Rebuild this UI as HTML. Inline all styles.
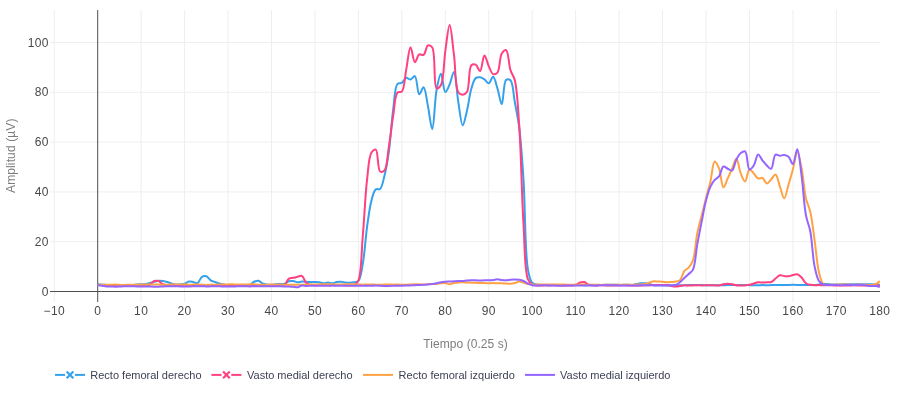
<!DOCTYPE html>
<html><head><meta charset="utf-8"><title>EMG</title>
<style>
html,body{margin:0;padding:0;background:#fff;}
body{width:900px;height:400px;overflow:hidden;font-family:"Liberation Sans",sans-serif;}
svg{display:block;will-change:transform;}
text{font-family:"Liberation Sans",sans-serif;}
.g{stroke:#eeeeee;stroke-width:1;}
.z{stroke:#4e4e4e;stroke-width:1;}
.tk{font-size:12px;fill:#484848;letter-spacing:0.35px;}
.tt{font-size:12px;fill:#7d7d7d;}
.lg{font-size:11px;fill:#3e4156;}
.tr{fill:none;stroke-width:2;stroke-linejoin:round;stroke-linecap:butt;}
</style></head><body>
<svg width="900" height="400" viewBox="0 0 900 400">
<rect x="0" y="0" width="900" height="400" fill="#ffffff"/>
<defs><clipPath id="cp"><rect x="50" y="10" width="829.9" height="292"/></clipPath></defs>

<line class="g" x1="54.25" x2="54.25" y1="10" y2="302"/>
<line class="g" x1="141.15" x2="141.15" y1="10" y2="302"/>
<line class="g" x1="184.60" x2="184.60" y1="10" y2="302"/>
<line class="g" x1="228.05" x2="228.05" y1="10" y2="302"/>
<line class="g" x1="271.50" x2="271.50" y1="10" y2="302"/>
<line class="g" x1="314.95" x2="314.95" y1="10" y2="302"/>
<line class="g" x1="358.40" x2="358.40" y1="10" y2="302"/>
<line class="g" x1="401.85" x2="401.85" y1="10" y2="302"/>
<line class="g" x1="445.30" x2="445.30" y1="10" y2="302"/>
<line class="g" x1="488.75" x2="488.75" y1="10" y2="302"/>
<line class="g" x1="532.20" x2="532.20" y1="10" y2="302"/>
<line class="g" x1="575.65" x2="575.65" y1="10" y2="302"/>
<line class="g" x1="619.10" x2="619.10" y1="10" y2="302"/>
<line class="g" x1="662.55" x2="662.55" y1="10" y2="302"/>
<line class="g" x1="706.00" x2="706.00" y1="10" y2="302"/>
<line class="g" x1="749.45" x2="749.45" y1="10" y2="302"/>
<line class="g" x1="792.90" x2="792.90" y1="10" y2="302"/>
<line class="g" x1="836.35" x2="836.35" y1="10" y2="302"/>
<line class="g" x1="50" x2="880" y1="241.70" y2="241.70"/>
<line class="g" x1="50" x2="880" y1="191.90" y2="191.90"/>
<line class="g" x1="50" x2="880" y1="142.10" y2="142.10"/>
<line class="g" x1="50" x2="880" y1="92.30" y2="92.30"/>
<line class="g" x1="50" x2="880" y1="42.50" y2="42.50"/>
<line class="z" x1="97.70" x2="97.70" y1="10" y2="302"/>
<line class="z" x1="50" x2="880" y1="291.50" y2="291.50"/>
<g clip-path="url(#cp)">
<path class="tr" stroke="#35A1EC" d="M97.70,284.28Q100.59,284.68 102.05,284.78C103.49,284.88 104.94,284.85 106.39,284.89C107.84,284.93 109.29,285.02 110.73,285.04C112.18,285.07 113.63,285.04 115.08,285.04C116.53,285.04 117.98,285.06 119.42,285.05C120.87,285.04 122.32,285.01 123.77,284.98C125.22,284.95 126.67,284.86 128.12,284.88C129.56,284.90 131.01,285.16 132.46,285.10C133.91,285.04 135.35,284.67 136.81,284.53C138.25,284.39 139.70,284.36 141.15,284.28C142.60,284.20 144.06,284.23 145.50,284.03C146.95,283.82 148.40,283.41 149.84,283.03C151.29,282.66 152.73,282.16 154.19,281.79C155.63,281.42 157.07,280.92 158.53,280.79C159.97,280.67 161.44,280.84 162.88,281.04C164.33,281.25 165.78,281.63 167.22,282.04C168.68,282.45 170.11,283.12 171.56,283.53C173.00,283.94 174.45,284.41 175.91,284.53C177.35,284.65 178.81,284.40 180.25,284.28C181.71,284.15 183.19,284.21 184.60,283.78C186.09,283.33 187.45,281.81 188.94,281.54C190.36,281.28 191.85,281.79 193.29,282.04C194.75,282.29 196.33,283.54 197.63,283.03C199.33,282.38 200.27,277.83 201.98,276.81C203.28,276.04 204.97,275.87 206.32,276.31C207.90,276.82 209.13,279.32 210.67,280.30C212.04,281.16 213.56,281.50 215.01,282.04C216.46,282.57 217.90,283.12 219.36,283.53C220.80,283.94 222.25,284.25 223.70,284.53C225.15,284.80 226.60,285.08 228.05,285.20C229.49,285.31 230.95,285.23 232.39,285.24C233.84,285.25 235.29,285.27 236.74,285.26C238.19,285.26 239.64,285.19 241.08,285.19C242.53,285.18 243.98,285.27 245.43,285.21C246.88,285.14 248.39,285.28 249.77,284.78C251.30,284.22 252.61,282.45 254.12,281.79C255.51,281.18 257.07,280.53 258.46,280.79C259.98,281.08 261.29,283.16 262.81,283.78C264.20,284.35 265.70,284.36 267.15,284.53C268.60,284.69 270.05,284.82 271.50,284.78C272.95,284.74 274.39,284.40 275.84,284.28C277.29,284.15 278.74,284.11 280.19,284.03C281.64,283.95 283.13,284.20 284.53,283.78C286.04,283.33 287.38,281.74 288.88,281.29C290.28,280.87 291.79,280.88 293.22,281.04C294.69,281.20 296.11,282.21 297.57,282.29C299.01,282.37 300.46,281.62 301.91,281.54C303.36,281.46 304.81,281.71 306.26,281.79C307.71,281.87 309.16,282.00 310.61,282.04C312.05,282.08 313.50,282.00 314.95,282.04C316.40,282.08 317.86,282.08 319.30,282.29C320.75,282.49 322.19,283.24 323.64,283.28C325.08,283.32 326.54,282.54 327.99,282.54C329.43,282.54 330.89,283.36 332.33,283.28C333.79,283.20 335.21,282.29 336.68,282.04C338.11,281.79 339.58,281.71 341.02,281.79C342.47,281.87 343.91,282.37 345.37,282.54C346.81,282.70 348.26,282.83 349.71,282.79C351.16,282.74 352.62,282.57 354.05,282.29C355.52,282.00 357.19,282.28 358.40,281.04C360.78,278.60 361.48,270.91 362.74,264.11C364.60,254.14 365.49,238.09 367.09,226.76C368.43,217.25 369.57,207.44 371.43,200.62C372.69,196.02 373.74,190.99 375.78,189.41C377.01,188.46 378.91,189.91 380.12,188.91C382.30,187.14 383.17,180.80 384.47,175.71C386.18,169.02 387.52,161.11 388.81,152.06C390.54,140.02 391.49,122.09 393.16,109.73C394.47,100.02 394.59,86.92 397.50,83.83C398.70,82.56 400.52,83.64 401.85,82.84C403.47,81.87 404.60,78.24 406.19,77.86C407.54,77.53 409.15,79.81 410.54,79.60C412.06,79.38 413.67,75.70 414.88,76.11C417.11,76.88 417.34,93.98 419.23,94.29C420.48,94.50 422.32,87.11 423.57,87.32C425.49,87.64 426.54,99.42 427.92,105.99C429.45,113.28 430.96,129.20 432.26,129.15C433.96,129.09 434.68,99.95 436.61,89.81C437.86,83.26 439.55,73.85 440.95,73.87C442.45,73.90 443.46,91.79 445.30,92.05C446.56,92.23 448.31,87.28 449.64,84.33C451.27,80.74 452.74,71.76 453.99,71.88C455.90,72.07 456.78,92.84 458.33,102.26C459.70,110.52 461.05,125.34 462.68,125.42C464.01,125.48 465.69,115.96 467.02,110.48C468.63,103.90 469.58,94.46 471.37,88.56C472.64,84.37 473.73,79.69 475.71,78.11C476.95,77.12 478.64,77.17 480.06,77.36C481.54,77.55 483.02,78.44 484.40,79.35C485.94,80.37 487.39,83.50 488.75,83.34C490.31,83.15 491.78,76.71 493.09,76.86C494.75,77.05 496.08,84.15 497.44,88.32C499.01,93.16 500.46,104.31 501.78,104.25C503.41,104.18 503.27,81.98 506.13,79.85C507.33,78.96 509.27,79.24 510.47,80.35C513.19,82.85 513.41,94.71 514.82,102.26C516.32,110.29 517.90,117.30 519.16,127.16C520.99,141.36 522.21,159.67 523.51,179.45C525.21,205.32 524.86,252.40 527.86,269.09C529.06,275.77 530.06,280.48 532.20,282.79C533.42,284.10 535.07,284.17 536.54,284.53C537.97,284.88 539.44,284.87 540.89,284.96C542.34,285.06 543.79,285.09 545.24,285.11C546.68,285.13 548.13,285.08 549.58,285.07C551.03,285.07 552.48,285.06 553.92,285.06C555.37,285.07 556.82,285.09 558.27,285.10C559.72,285.12 561.17,285.14 562.62,285.13C564.06,285.13 565.51,285.10 566.96,285.08C568.41,285.05 569.86,285.02 571.30,285.01C572.75,284.99 574.20,284.97 575.65,284.97C577.10,284.97 578.55,284.97 580.00,285.01C581.44,285.05 582.89,285.17 584.34,285.20C585.79,285.24 587.24,285.23 588.68,285.24C590.13,285.25 591.58,285.30 593.03,285.28C594.48,285.27 595.93,285.20 597.38,285.15C598.82,285.09 600.27,285.00 601.72,284.95C603.17,284.91 604.62,284.89 606.06,284.86C607.51,284.84 608.96,284.83 610.41,284.81C611.86,284.79 613.31,284.74 614.75,284.77C616.20,284.80 617.65,284.96 619.10,284.97C620.55,284.98 622.00,284.88 623.45,284.86C624.89,284.84 626.34,284.82 627.79,284.86C629.24,284.89 630.70,285.22 632.13,285.09C633.59,284.95 635.03,284.33 636.48,284.03C637.92,283.73 639.37,283.41 640.83,283.28C642.27,283.16 643.73,283.16 645.17,283.28C646.62,283.41 648.08,283.70 649.51,284.03C650.97,284.36 652.40,285.10 653.86,285.28C655.29,285.45 656.76,285.15 658.21,285.13C659.65,285.11 661.10,285.12 662.55,285.15C664.00,285.17 665.45,285.24 666.89,285.27C668.34,285.30 669.79,285.32 671.24,285.31C672.69,285.29 674.14,285.19 675.59,285.18C677.03,285.18 678.48,285.24 679.93,285.25C681.38,285.26 682.83,285.28 684.27,285.25C685.72,285.22 687.17,285.11 688.62,285.08C690.07,285.05 691.52,285.07 692.97,285.08C694.41,285.08 695.86,285.12 697.31,285.13C698.76,285.13 700.21,285.07 701.65,285.10C703.10,285.12 704.55,285.24 706.00,285.26C707.45,285.28 708.90,285.23 710.35,285.21C711.79,285.20 713.24,285.16 714.69,285.17C716.14,285.17 717.59,285.21 719.03,285.24C720.48,285.26 721.93,285.34 723.38,285.31C724.83,285.27 726.28,285.08 727.73,285.04C729.17,284.99 730.62,285.01 732.07,285.03C733.52,285.05 734.97,285.14 736.41,285.14C737.86,285.15 739.31,285.09 740.76,285.05C742.21,285.02 743.66,284.90 745.11,284.92C746.55,284.93 748.00,285.09 749.45,285.15C750.90,285.21 752.35,285.26 753.79,285.29C755.24,285.32 756.69,285.36 758.14,285.33C759.59,285.30 761.04,285.14 762.49,285.12C763.93,285.10 765.38,285.23 766.83,285.22C768.28,285.21 769.73,285.10 771.17,285.06C772.62,285.02 774.07,284.99 775.52,284.98C776.97,284.96 778.42,284.96 779.87,284.98C781.31,285.00 782.76,285.12 784.21,285.11C785.66,285.09 787.11,284.93 788.55,284.89C790.00,284.84 791.45,284.82 792.90,284.82C794.35,284.83 795.80,284.86 797.25,284.90C798.69,284.94 800.14,285.04 801.59,285.06C803.04,285.07 804.49,284.99 805.94,284.99C807.38,284.98 808.83,285.04 810.28,285.04C811.73,285.05 813.18,285.09 814.62,285.01C816.08,284.92 817.52,284.69 818.97,284.53C820.42,284.37 821.86,284.11 823.32,284.03C824.76,283.95 826.21,283.95 827.66,284.03C829.11,284.11 830.55,284.45 832.00,284.53C833.45,284.61 834.90,284.55 836.35,284.53C837.80,284.51 839.25,284.44 840.70,284.40C842.14,284.36 843.59,284.30 845.04,284.28C846.49,284.26 847.94,284.28 849.38,284.28C850.83,284.28 852.28,284.28 853.73,284.28C855.18,284.28 856.63,284.28 858.08,284.28C859.52,284.28 860.97,284.28 862.42,284.28C863.87,284.28 865.32,284.28 866.76,284.28C868.21,284.28 869.66,284.24 871.11,284.28C872.56,284.32 874.01,284.44 875.46,284.53Q876.90,284.61 879.80,284.78"/>
<path class="tr" stroke="#FF4081" d="M97.70,285.09Q100.60,284.96 102.05,284.99C103.49,285.02 104.94,285.20 106.39,285.28C107.84,285.36 109.29,285.45 110.73,285.44C112.18,285.44 113.63,285.29 115.08,285.24C116.53,285.20 117.98,285.18 119.42,285.16C120.87,285.14 122.32,285.12 123.77,285.14C125.22,285.16 126.67,285.25 128.12,285.27C129.56,285.29 131.01,285.24 132.46,285.23C133.91,285.22 135.36,285.21 136.81,285.21C138.25,285.20 139.70,285.17 141.15,285.20C142.60,285.23 144.05,285.44 145.50,285.37C146.95,285.30 148.48,285.39 149.84,284.78C151.40,284.08 152.62,281.62 154.19,281.04C155.55,280.54 157.15,280.59 158.53,281.04C160.07,281.55 161.35,283.57 162.88,284.28C164.26,284.92 165.76,285.14 167.22,285.27C168.66,285.40 170.12,285.09 171.56,285.07C173.01,285.06 174.46,285.14 175.91,285.18C177.36,285.21 178.81,285.26 180.25,285.31C181.70,285.36 183.15,285.43 184.60,285.48C186.05,285.53 187.50,285.59 188.94,285.59C190.39,285.59 191.84,285.50 193.29,285.48C194.74,285.46 196.19,285.47 197.63,285.47C199.08,285.46 200.53,285.48 201.98,285.44C203.43,285.40 204.88,285.25 206.32,285.22C207.77,285.18 209.22,285.23 210.67,285.23C212.12,285.23 213.57,285.20 215.01,285.22C216.46,285.24 217.91,285.30 219.36,285.35C220.81,285.40 222.26,285.49 223.70,285.51C225.15,285.53 226.60,285.48 228.05,285.49C229.50,285.49 230.95,285.55 232.39,285.55C233.84,285.54 235.29,285.50 236.74,285.43C238.19,285.37 239.64,285.22 241.08,285.17C242.53,285.12 243.98,285.12 245.43,285.14C246.88,285.17 248.33,285.32 249.77,285.32C251.22,285.32 252.67,285.19 254.12,285.15C255.57,285.11 257.02,285.09 258.46,285.08C259.91,285.07 261.36,285.08 262.81,285.06C264.26,285.05 265.71,285.00 267.15,284.99C268.60,284.98 270.05,285.00 271.50,285.00C272.95,285.00 274.40,284.97 275.84,284.99C277.29,285.02 278.74,285.16 280.19,285.16C281.64,285.17 283.24,285.74 284.53,285.03C286.26,284.07 287.16,279.67 288.88,278.55C290.17,277.71 291.78,278.09 293.22,277.81C294.68,277.51 296.12,277.14 297.57,276.81C299.02,276.48 300.63,275.27 301.91,275.81C303.68,276.56 304.53,281.56 306.26,283.03C307.55,284.13 309.13,284.41 310.61,284.78C312.03,285.13 313.50,285.19 314.95,285.24C316.40,285.29 317.85,285.10 319.30,285.08C320.74,285.07 322.19,285.16 323.64,285.16C325.09,285.16 326.54,285.07 327.99,285.07C329.43,285.08 330.88,285.21 332.33,285.21C333.78,285.21 335.23,285.12 336.68,285.09C338.12,285.05 339.57,284.99 341.02,285.00C342.47,285.01 343.92,285.10 345.37,285.13C346.81,285.15 348.26,285.18 349.71,285.16C351.16,285.14 352.72,285.64 354.05,285.03C355.67,284.28 357.20,282.98 358.40,280.30C361.54,273.30 361.38,252.24 362.74,236.72C364.31,218.94 365.25,194.94 367.09,179.45C368.35,168.78 368.71,156.87 371.43,152.56C372.64,150.66 374.58,149.08 375.78,149.57C378.26,150.58 377.44,169.74 380.12,171.48C381.33,172.26 383.27,171.74 384.47,170.49C387.24,167.59 387.45,155.45 388.81,147.08C390.38,137.46 391.60,125.58 393.16,115.95C394.52,107.58 394.73,95.44 397.50,92.55C398.71,91.30 400.65,92.79 401.85,91.55C404.52,88.80 404.76,77.20 406.19,69.89C407.66,62.42 408.92,47.31 410.54,47.23C411.87,47.17 413.17,61.97 414.88,62.17C416.18,62.32 417.42,55.38 419.23,54.45C420.50,53.80 422.33,55.65 423.57,54.95C425.50,53.87 426.06,46.18 427.92,45.49C429.18,45.02 431.06,45.80 432.26,47.48C435.80,52.39 433.30,86.87 436.61,88.32C437.81,88.84 439.75,87.13 440.95,85.08C443.97,79.93 443.75,61.76 445.30,51.21C446.67,41.92 448.24,25.06 449.64,25.07C451.14,25.09 452.61,44.42 453.99,54.95C455.53,66.70 455.04,87.31 458.33,92.30C459.54,94.12 461.25,94.85 462.68,94.79C464.15,94.73 465.82,93.70 467.02,91.80C469.74,87.52 468.39,68.00 471.37,65.16C472.57,64.01 474.42,64.06 475.71,64.66C477.44,65.46 478.79,71.34 480.06,71.13C481.89,70.84 482.81,55.54 484.40,55.45C485.75,55.37 487.20,62.89 488.75,66.15C490.12,69.05 491.30,73.43 493.09,74.12C494.37,74.62 496.24,73.97 497.44,72.63C499.93,69.85 499.48,57.00 501.78,53.46C503.00,51.59 504.92,49.77 506.13,50.22C508.48,51.10 508.73,64.67 510.47,70.14C511.76,74.18 513.61,75.62 514.82,80.35C517.24,89.81 517.91,106.93 519.16,124.67C521.04,151.22 521.77,196.01 523.51,224.27C524.80,245.25 524.48,270.48 527.86,279.05C529.06,282.11 530.55,283.51 532.20,284.53C533.52,285.34 535.09,285.25 536.54,285.41C537.99,285.57 539.44,285.50 540.89,285.49C542.34,285.47 543.79,285.33 545.24,285.33C546.68,285.33 548.13,285.50 549.58,285.48C551.03,285.46 552.48,285.22 553.92,285.21C555.37,285.21 556.82,285.42 558.27,285.43C559.72,285.44 561.17,285.27 562.62,285.28C564.06,285.28 565.51,285.43 566.96,285.47C568.41,285.50 569.86,285.56 571.30,285.49C572.76,285.41 574.25,285.48 575.65,285.03C577.15,284.54 578.49,283.03 580.00,282.54C581.40,282.08 582.95,281.69 584.34,282.04C585.86,282.42 587.16,284.49 588.68,285.03C590.07,285.51 591.58,285.27 593.03,285.35C594.48,285.43 595.93,285.52 597.38,285.50C598.82,285.48 600.27,285.24 601.72,285.22C603.17,285.20 604.62,285.33 606.06,285.38C607.51,285.43 608.96,285.50 610.41,285.52C611.86,285.54 613.31,285.51 614.75,285.49C616.20,285.46 617.65,285.40 619.10,285.36C620.55,285.31 622.00,285.22 623.45,285.23C624.89,285.23 626.34,285.37 627.79,285.40C629.24,285.43 630.69,285.39 632.13,285.41C633.58,285.44 635.03,285.54 636.48,285.55C637.93,285.55 639.38,285.50 640.83,285.46C642.27,285.41 643.72,285.32 645.17,285.28C646.62,285.23 648.07,285.22 649.51,285.18C650.96,285.15 652.41,285.08 653.86,285.06C655.31,285.04 656.76,285.05 658.21,285.04C659.65,285.03 661.10,285.00 662.55,284.99C664.00,284.99 665.46,284.85 666.89,285.02C668.35,285.19 669.78,285.77 671.24,286.02C672.68,286.27 674.14,286.52 675.59,286.52C677.03,286.52 678.48,286.22 679.93,286.02C681.38,285.82 682.82,285.41 684.27,285.32C685.72,285.23 687.17,285.45 688.62,285.46C690.07,285.47 691.52,285.45 692.97,285.41C694.41,285.36 695.86,285.21 697.31,285.20C698.76,285.20 700.21,285.36 701.65,285.38C703.10,285.40 704.55,285.31 706.00,285.30C707.45,285.30 708.90,285.34 710.35,285.34C711.79,285.34 713.24,285.29 714.69,285.31C716.14,285.32 717.60,285.60 719.03,285.44C720.50,285.27 721.92,284.56 723.38,284.28C724.82,284.01 726.28,283.78 727.73,283.78C729.17,283.78 730.63,284.03 732.07,284.28C733.53,284.53 734.96,285.10 736.41,285.30C737.85,285.49 739.31,285.47 740.76,285.48C742.21,285.49 743.66,285.49 745.11,285.38C746.56,285.26 748.01,285.08 749.45,284.78C750.91,284.47 752.35,283.95 753.79,283.53C755.24,283.12 756.68,282.45 758.14,282.29C759.57,282.13 761.04,282.54 762.49,282.54C763.93,282.54 765.38,282.37 766.83,282.29C768.28,282.20 769.81,282.56 771.17,282.04C772.72,281.44 774.06,279.68 775.52,278.55C776.96,277.44 778.33,275.68 779.87,275.31C781.25,274.98 782.76,275.90 784.21,276.06C785.65,276.23 787.12,276.47 788.55,276.31C790.02,276.15 791.44,275.40 792.90,275.07C794.34,274.74 795.86,273.99 797.25,274.32C798.78,274.69 800.23,276.21 801.59,277.56C803.16,279.11 804.28,282.09 805.94,283.28C807.25,284.24 808.81,284.44 810.28,284.78C811.71,285.10 813.17,285.22 814.62,285.27C816.07,285.33 817.52,285.10 818.97,285.10C820.42,285.10 821.87,285.24 823.32,285.27C824.76,285.30 826.21,285.30 827.66,285.30C829.11,285.30 830.56,285.25 832.00,285.28C833.45,285.31 834.90,285.43 836.35,285.48C837.80,285.53 839.25,285.58 840.70,285.58C842.14,285.58 843.59,285.50 845.04,285.49C846.49,285.49 847.94,285.58 849.38,285.56C850.83,285.54 852.28,285.38 853.73,285.36C855.18,285.34 856.63,285.40 858.08,285.43C859.52,285.46 860.97,285.51 862.42,285.53C863.87,285.55 865.32,285.55 866.76,285.55C868.21,285.56 869.66,285.55 871.11,285.55C872.56,285.55 874.01,285.57 875.46,285.55Q876.90,285.53 879.80,285.43"/>
<path class="tr" stroke="#FFA244" d="M97.70,284.77Q100.60,284.71 102.05,284.70C103.49,284.70 104.94,284.75 106.39,284.74C107.84,284.73 109.29,284.68 110.73,284.66C112.18,284.64 113.63,284.57 115.08,284.60C116.53,284.63 117.98,284.75 119.42,284.82C120.87,284.88 122.32,284.99 123.77,284.97C125.22,284.95 126.67,284.72 128.12,284.69C129.56,284.66 131.01,284.76 132.46,284.78C133.91,284.81 135.36,284.89 136.81,284.85C138.25,284.81 139.70,284.59 141.15,284.55C142.60,284.51 144.05,284.62 145.50,284.60C146.94,284.59 148.39,284.48 149.84,284.47C151.29,284.46 152.74,284.55 154.19,284.56C155.63,284.56 157.08,284.50 158.53,284.53C159.98,284.56 161.43,284.72 162.88,284.74C164.32,284.76 165.77,284.69 167.22,284.64C168.67,284.60 170.12,284.50 171.56,284.48C173.01,284.46 174.46,284.54 175.91,284.54C177.36,284.54 178.81,284.49 180.25,284.48C181.70,284.47 183.15,284.43 184.60,284.47C186.05,284.51 187.50,284.72 188.94,284.74C190.39,284.76 191.84,284.62 193.29,284.59C194.74,284.56 196.19,284.56 197.63,284.57C199.08,284.59 200.53,284.64 201.98,284.69C203.43,284.75 204.88,284.90 206.32,284.89C207.77,284.88 209.22,284.67 210.67,284.63C212.12,284.59 213.57,284.66 215.01,284.65C216.46,284.64 217.91,284.59 219.36,284.55C220.81,284.52 222.26,284.45 223.70,284.42C225.15,284.40 226.60,284.44 228.05,284.42C229.50,284.40 230.95,284.31 232.39,284.32C233.84,284.34 235.29,284.48 236.74,284.50C238.19,284.52 239.64,284.42 241.08,284.43C242.53,284.43 243.98,284.55 245.43,284.54C246.88,284.54 248.33,284.43 249.77,284.39C251.22,284.36 252.67,284.29 254.12,284.33C255.57,284.37 257.02,284.56 258.46,284.64C259.91,284.72 261.36,284.77 262.81,284.81C264.26,284.85 265.71,284.91 267.15,284.87C268.60,284.83 270.05,284.61 271.50,284.58C272.95,284.54 274.40,284.63 275.84,284.63C277.29,284.64 278.74,284.57 280.19,284.59C281.64,284.60 283.09,284.69 284.53,284.70C285.98,284.72 287.43,284.68 288.88,284.68C290.33,284.68 291.78,284.71 293.22,284.72C294.67,284.73 296.12,284.77 297.57,284.76C299.02,284.75 300.47,284.70 301.91,284.68C303.36,284.66 304.81,284.67 306.26,284.63C307.71,284.59 309.16,284.49 310.61,284.46C312.05,284.43 313.50,284.47 314.95,284.45C316.40,284.43 317.85,284.37 319.30,284.34C320.74,284.32 322.19,284.33 323.64,284.31C325.09,284.29 326.54,284.22 327.99,284.22C329.43,284.23 330.88,284.26 332.33,284.32C333.78,284.38 335.23,284.58 336.68,284.60C338.12,284.63 339.57,284.51 341.02,284.46C342.47,284.42 343.92,284.36 345.37,284.33C346.81,284.30 348.26,284.27 349.71,284.28C351.16,284.29 352.61,284.38 354.05,284.40C355.50,284.42 356.95,284.36 358.40,284.40C359.85,284.44 361.30,284.62 362.74,284.63C364.19,284.65 365.64,284.51 367.09,284.49C368.54,284.47 369.99,284.49 371.43,284.52C372.88,284.55 374.33,284.62 375.78,284.67C377.23,284.73 378.68,284.87 380.12,284.86C381.57,284.85 383.02,284.69 384.47,284.62C385.92,284.54 387.37,284.40 388.81,284.41C390.26,284.42 391.71,284.67 393.16,284.69C394.61,284.71 396.06,284.55 397.50,284.54C398.95,284.53 400.40,284.58 401.85,284.63C403.30,284.67 404.75,284.83 406.19,284.79C407.64,284.76 409.09,284.49 410.54,284.40C411.99,284.32 413.44,284.30 414.88,284.28C416.33,284.26 417.78,284.24 419.23,284.28C420.68,284.32 422.13,284.55 423.57,284.53C425.02,284.51 426.47,284.26 427.92,284.15C429.37,284.05 430.82,283.93 432.26,283.91C433.71,283.88 435.17,284.13 436.61,284.03C438.06,283.93 439.50,283.45 440.95,283.28C442.40,283.12 443.86,282.89 445.30,283.03C446.76,283.18 448.20,284.15 449.64,284.15C451.09,284.15 452.53,283.33 453.99,283.03C455.43,282.75 456.88,282.54 458.33,282.41C459.78,282.29 461.23,282.27 462.68,282.29C464.13,282.31 465.58,282.47 467.02,282.54C468.47,282.60 469.92,282.62 471.37,282.66C472.82,282.70 474.27,282.72 475.71,282.79C477.16,282.85 478.61,282.99 480.06,283.03C481.51,283.08 482.96,282.99 484.40,283.03C485.85,283.08 487.30,283.28 488.75,283.28C490.20,283.28 491.65,283.03 493.09,283.03C494.54,283.03 495.99,283.24 497.44,283.28C498.89,283.32 500.34,283.24 501.78,283.28C503.23,283.32 504.68,283.45 506.13,283.53C507.58,283.62 509.03,283.86 510.47,283.78C511.93,283.70 513.39,283.40 514.82,283.03C516.28,282.66 517.71,281.62 519.16,281.54C520.60,281.46 522.07,282.13 523.51,282.54C524.97,282.95 526.39,283.69 527.86,284.03C529.29,284.36 530.75,284.48 532.20,284.57C533.65,284.65 535.10,284.56 536.54,284.56C537.99,284.56 539.44,284.57 540.89,284.57C542.34,284.57 543.79,284.58 545.24,284.55C546.68,284.52 548.13,284.40 549.58,284.39C551.03,284.38 552.48,284.46 553.92,284.49C555.37,284.53 556.82,284.58 558.27,284.59C559.72,284.59 561.17,284.50 562.62,284.52C564.06,284.53 565.51,284.65 566.96,284.69C568.41,284.73 569.86,284.79 571.30,284.76C572.75,284.73 574.20,284.54 575.65,284.50C577.10,284.47 578.55,284.54 580.00,284.55C581.44,284.57 582.89,284.53 584.34,284.57C585.79,284.62 587.24,284.79 588.68,284.82C590.13,284.86 591.58,284.81 593.03,284.79C594.48,284.77 595.93,284.68 597.38,284.70C598.82,284.72 600.27,284.89 601.72,284.90C603.17,284.90 604.62,284.79 606.06,284.75C607.51,284.71 608.96,284.63 610.41,284.65C611.86,284.67 613.31,284.84 614.75,284.85C616.20,284.86 617.65,284.74 619.10,284.71C620.55,284.69 622.00,284.72 623.45,284.70C624.89,284.69 626.34,284.61 627.79,284.60C629.24,284.60 630.69,284.69 632.13,284.69C633.58,284.69 635.03,284.61 636.48,284.58C637.93,284.55 639.38,284.62 640.83,284.53C642.28,284.44 643.74,284.35 645.17,284.03C646.64,283.70 648.06,282.99 649.51,282.54C650.96,282.08 652.40,281.45 653.86,281.29C655.29,281.13 656.76,281.46 658.21,281.54C659.65,281.62 661.10,281.66 662.55,281.79C664.00,281.91 665.44,282.25 666.89,282.29C668.34,282.33 669.79,282.16 671.24,282.04C672.69,281.91 674.15,281.83 675.59,281.54C677.05,281.25 678.67,281.36 679.93,280.30C681.81,278.69 682.53,273.29 684.27,271.08C685.56,269.45 687.29,269.11 688.62,267.60C690.25,265.73 691.75,263.72 692.97,260.38C695.17,254.32 695.67,241.06 697.31,232.98C698.63,226.49 700.21,221.37 701.65,215.56C703.10,209.75 704.53,203.82 706.00,198.12C707.42,192.62 708.97,187.67 710.35,181.94C711.88,175.55 712.71,161.87 714.69,161.52C715.93,161.30 717.79,165.47 719.03,168.49C720.95,173.14 721.60,187.22 723.38,187.42C724.66,187.56 726.31,181.54 727.73,178.45C729.21,175.24 730.61,171.79 732.07,168.49C733.51,165.23 735.08,158.69 736.41,158.78C738.02,158.89 739.07,169.39 740.76,173.47C742.06,176.61 743.76,181.54 745.11,181.44C746.70,181.32 747.60,169.94 749.45,169.49C750.71,169.18 752.39,172.03 753.79,173.47C755.29,175.00 756.51,177.82 758.14,178.45C759.47,178.97 761.17,177.41 762.49,177.96C764.15,178.65 765.31,183.31 766.83,183.43C768.22,183.54 769.77,180.89 771.17,179.45C772.67,177.92 774.24,174.23 775.52,174.47C777.29,174.80 778.42,182.44 779.87,186.42C781.31,190.41 782.81,198.41 784.21,198.37C785.71,198.34 787.13,189.17 788.55,184.43C790.03,179.54 791.50,174.68 792.90,169.49C794.40,163.92 795.77,152.07 797.25,152.06C798.67,152.05 800.30,161.97 801.59,168.25C803.33,176.70 804.08,190.39 805.94,198.37C807.20,203.81 809.01,206.44 810.28,211.82C812.10,219.52 813.21,230.65 814.62,240.45C816.11,250.79 817.00,264.34 818.97,272.33C820.21,277.35 821.22,282.66 823.32,284.28C824.54,285.23 826.21,284.62 827.66,284.70C829.11,284.78 830.56,284.80 832.00,284.78C833.45,284.76 834.90,284.63 836.35,284.59C837.80,284.55 839.25,284.57 840.70,284.55C842.14,284.53 843.59,284.45 845.04,284.45C846.49,284.46 847.94,284.55 849.38,284.60C850.83,284.66 852.28,284.75 853.73,284.79C855.18,284.83 856.63,284.85 858.08,284.83C859.52,284.80 860.97,284.64 862.42,284.63C863.87,284.61 865.32,284.67 866.76,284.74C868.21,284.81 869.67,285.10 871.11,285.03C872.56,284.95 874.07,284.87 875.46,284.28Q876.99,283.62 879.80,281.04"/>
<path class="tr" stroke="#9565FF" d="M97.70,285.27Q100.60,285.57 102.05,285.77C103.50,285.98 104.94,286.40 106.39,286.52C107.83,286.64 109.29,286.49 110.73,286.52C112.18,286.55 113.63,286.66 115.08,286.67C116.53,286.69 117.98,286.65 119.42,286.60C120.87,286.55 122.32,286.42 123.77,286.37C125.22,286.32 126.67,286.30 128.12,286.28C129.56,286.25 131.01,286.21 132.46,286.23C133.91,286.25 135.36,286.37 136.81,286.39C138.25,286.42 139.70,286.37 141.15,286.38C142.60,286.39 144.05,286.44 145.50,286.47C146.94,286.49 148.39,286.52 149.84,286.55C151.29,286.58 152.74,286.61 154.19,286.63C155.63,286.64 157.08,286.67 158.53,286.63C159.98,286.59 161.43,286.45 162.88,286.39C164.32,286.33 165.77,286.31 167.22,286.28C168.67,286.25 170.12,286.23 171.56,286.22C173.01,286.20 174.46,286.16 175.91,286.18C177.36,286.21 178.81,286.33 180.25,286.38C181.70,286.42 183.15,286.45 184.60,286.45C186.05,286.45 187.50,286.41 188.94,286.38C190.39,286.36 191.84,286.34 193.29,286.31C194.74,286.28 196.19,286.24 197.63,286.22C199.08,286.19 200.53,286.13 201.98,286.16C203.43,286.19 204.88,286.36 206.32,286.40C207.77,286.43 209.22,286.37 210.67,286.36C212.12,286.35 213.57,286.32 215.01,286.31C216.46,286.31 217.91,286.32 219.36,286.34C220.81,286.37 222.26,286.46 223.70,286.48C225.15,286.50 226.60,286.44 228.05,286.45C229.50,286.47 230.95,286.59 232.39,286.57C233.84,286.56 235.29,286.41 236.74,286.35C238.19,286.30 239.64,286.25 241.08,286.24C242.53,286.23 243.98,286.26 245.43,286.29C246.88,286.31 248.33,286.40 249.77,286.40C251.22,286.39 252.67,286.27 254.12,286.26C255.57,286.24 257.02,286.30 258.46,286.29C259.91,286.28 261.36,286.22 262.81,286.20C264.26,286.17 265.71,286.15 267.15,286.15C268.60,286.16 270.05,286.22 271.50,286.25C272.95,286.28 274.40,286.32 275.84,286.34C277.29,286.35 278.74,286.32 280.19,286.33C281.64,286.33 283.09,286.35 284.53,286.38C285.98,286.41 287.43,286.44 288.88,286.50C290.33,286.57 291.78,286.64 293.22,286.77C294.68,286.90 296.15,287.46 297.57,287.27C299.04,287.07 300.44,285.74 301.91,285.52C303.34,285.32 304.81,285.90 306.26,285.94C307.71,285.99 309.16,285.82 310.61,285.80C312.05,285.78 313.50,285.84 314.95,285.84C316.40,285.83 317.85,285.78 319.30,285.77C320.74,285.75 322.19,285.75 323.64,285.75C325.09,285.75 326.54,285.81 327.99,285.78C329.43,285.76 330.88,285.59 332.33,285.58C333.78,285.57 335.23,285.70 336.68,285.73C338.12,285.76 339.57,285.73 341.02,285.75C342.47,285.77 343.92,285.83 345.37,285.83C346.81,285.83 348.26,285.74 349.71,285.73C351.16,285.73 352.61,285.78 354.05,285.80C355.50,285.81 356.95,285.83 358.40,285.81C359.85,285.79 361.30,285.69 362.74,285.68C364.19,285.67 365.64,285.74 367.09,285.75C368.54,285.75 369.99,285.74 371.43,285.71C372.88,285.68 374.33,285.56 375.78,285.56C377.23,285.57 378.68,285.70 380.12,285.76C381.57,285.81 383.02,285.86 384.47,285.89C385.92,285.91 387.37,285.92 388.81,285.91C390.26,285.89 391.71,285.82 393.16,285.77C394.61,285.73 396.06,285.67 397.50,285.65C398.95,285.63 400.40,285.67 401.85,285.65C403.30,285.63 404.75,285.57 406.19,285.52C407.64,285.48 409.09,285.44 410.54,285.40C411.99,285.36 413.44,285.34 414.88,285.27C416.33,285.21 417.78,285.11 419.23,285.03C420.68,284.94 422.13,284.86 423.57,284.78C425.02,284.69 426.47,284.65 427.92,284.53C429.37,284.40 430.82,284.24 432.26,284.03C433.72,283.82 435.17,283.57 436.61,283.28C438.06,282.99 439.50,282.54 440.95,282.29C442.40,282.04 443.85,281.91 445.30,281.79C446.75,281.66 448.20,281.62 449.64,281.54C451.09,281.46 452.54,281.37 453.99,281.29C455.44,281.21 456.89,281.08 458.33,281.04C459.78,281.00 461.23,281.12 462.68,281.04C464.13,280.96 465.57,280.67 467.02,280.54C468.47,280.42 469.92,280.34 471.37,280.30C472.82,280.25 474.27,280.25 475.71,280.30C477.16,280.34 478.61,280.54 480.06,280.54C481.51,280.54 482.96,280.34 484.40,280.30C485.85,280.25 487.30,280.34 488.75,280.30C490.20,280.25 491.65,280.21 493.09,280.05C494.55,279.88 495.99,279.30 497.44,279.30C498.89,279.30 500.33,279.88 501.78,280.05C503.23,280.21 504.68,280.34 506.13,280.30C507.58,280.25 509.02,279.92 510.47,279.80C511.92,279.67 513.37,279.55 514.82,279.55C516.27,279.55 517.73,279.55 519.16,279.80C520.63,280.05 522.10,280.45 523.51,281.04C525.00,281.67 526.38,282.82 527.86,283.53C529.28,284.22 530.72,284.94 532.20,285.27C533.62,285.60 535.10,285.56 536.54,285.57C537.99,285.57 539.44,285.35 540.89,285.31C542.34,285.28 543.79,285.33 545.24,285.35C546.68,285.38 548.13,285.42 549.58,285.45C551.03,285.49 552.48,285.54 553.92,285.57C555.37,285.60 556.82,285.62 558.27,285.63C559.72,285.65 561.17,285.67 562.62,285.64C564.06,285.61 565.51,285.48 566.96,285.46C568.41,285.44 569.86,285.51 571.30,285.54C572.75,285.57 574.20,285.63 575.65,285.62C577.10,285.62 578.55,285.53 580.00,285.52C581.44,285.50 582.89,285.58 584.34,285.54C585.79,285.50 587.24,285.30 588.68,285.29C590.13,285.27 591.58,285.43 593.03,285.44C594.48,285.46 595.93,285.42 597.38,285.40C598.82,285.37 600.27,285.29 601.72,285.28C603.17,285.27 604.62,285.36 606.06,285.34C607.51,285.32 608.96,285.19 610.41,285.17C611.86,285.16 613.31,285.22 614.75,285.25C616.20,285.29 617.65,285.36 619.10,285.38C620.55,285.41 622.00,285.37 623.45,285.40C624.89,285.43 626.34,285.53 627.79,285.54C629.24,285.56 630.69,285.50 632.13,285.49C633.58,285.49 635.03,285.55 636.48,285.52C637.93,285.49 639.38,285.37 640.83,285.32C642.27,285.27 643.72,285.22 645.17,285.22C646.62,285.21 648.07,285.23 649.51,285.27C650.96,285.31 652.41,285.43 653.86,285.46C655.31,285.50 656.76,285.49 658.21,285.50C659.65,285.52 661.10,285.52 662.55,285.53C664.00,285.54 665.45,285.55 666.89,285.56C668.34,285.57 669.79,285.66 671.24,285.57C672.69,285.48 674.19,285.53 675.59,285.03C677.10,284.49 678.54,283.38 679.93,282.29C681.44,281.09 682.82,279.43 684.27,278.05C685.71,276.69 687.19,275.46 688.62,274.07C690.09,272.64 691.76,271.96 692.97,269.59C695.41,264.76 695.82,252.38 697.31,244.19C698.72,236.48 700.19,229.14 701.65,221.78C703.08,214.62 704.37,206.87 706.00,200.62C707.33,195.52 708.63,190.64 710.35,186.92C711.64,184.11 713.07,181.77 714.69,179.95C716.02,178.45 717.76,178.13 719.03,176.46C720.82,174.13 721.51,167.17 723.38,166.50C724.64,166.06 726.26,168.07 727.73,168.74C729.16,169.40 730.83,171.02 732.07,170.49C734.04,169.64 734.78,162.63 736.41,159.53C737.74,157.01 739.07,154.42 740.76,153.06C742.07,152.00 743.90,150.69 745.11,151.31C747.52,152.56 747.28,168.83 749.45,169.49C750.67,169.86 752.52,167.35 753.79,165.51C755.59,162.89 756.48,154.76 758.14,154.55C759.46,154.38 760.99,158.66 762.49,160.53C763.90,162.29 765.30,164.09 766.83,165.51C768.21,166.79 769.94,169.15 771.17,168.74C773.21,168.07 773.31,155.75 775.52,154.55C776.74,153.89 778.41,155.72 779.87,155.79C781.30,155.87 782.78,154.90 784.21,155.05C785.68,155.20 787.26,155.69 788.55,156.79C790.29,158.27 791.61,164.18 792.90,164.01C794.64,163.79 795.95,149.24 797.25,149.32C798.96,149.43 800.26,166.01 801.59,175.71C803.21,187.56 804.00,205.12 805.94,215.31C807.18,221.87 809.02,224.83 810.28,231.24C812.13,240.66 812.71,257.47 814.62,266.60C815.87,272.54 816.94,278.03 818.97,281.04C820.20,282.87 821.77,283.91 823.32,284.53C824.68,285.08 826.21,284.84 827.66,284.90C829.11,284.96 830.56,284.86 832.00,284.89C833.45,284.92 834.90,285.05 836.35,285.10C837.80,285.15 839.25,285.19 840.70,285.19C842.14,285.18 843.59,285.10 845.04,285.07C846.49,285.05 847.94,285.05 849.38,285.03C850.83,285.01 852.28,284.98 853.73,284.94C855.18,284.91 856.63,284.82 858.08,284.83C859.52,284.84 860.97,284.89 862.42,285.00C863.87,285.12 865.32,285.35 866.76,285.52C868.21,285.69 869.66,285.94 871.11,286.02C872.56,286.10 874.02,285.86 875.46,286.02Q876.91,286.19 879.80,287.02"/>
</g>
<text class="tk" text-anchor="middle" x="54.25" y="315.3">−10</text>
<text class="tk" text-anchor="middle" x="97.70" y="315.3">0</text>
<text class="tk" text-anchor="middle" x="141.15" y="315.3">10</text>
<text class="tk" text-anchor="middle" x="184.60" y="315.3">20</text>
<text class="tk" text-anchor="middle" x="228.05" y="315.3">30</text>
<text class="tk" text-anchor="middle" x="271.50" y="315.3">40</text>
<text class="tk" text-anchor="middle" x="314.95" y="315.3">50</text>
<text class="tk" text-anchor="middle" x="358.40" y="315.3">60</text>
<text class="tk" text-anchor="middle" x="401.85" y="315.3">70</text>
<text class="tk" text-anchor="middle" x="445.30" y="315.3">80</text>
<text class="tk" text-anchor="middle" x="488.75" y="315.3">90</text>
<text class="tk" text-anchor="middle" x="532.20" y="315.3">100</text>
<text class="tk" text-anchor="middle" x="575.65" y="315.3">110</text>
<text class="tk" text-anchor="middle" x="619.10" y="315.3">120</text>
<text class="tk" text-anchor="middle" x="662.55" y="315.3">130</text>
<text class="tk" text-anchor="middle" x="706.00" y="315.3">140</text>
<text class="tk" text-anchor="middle" x="749.45" y="315.3">150</text>
<text class="tk" text-anchor="middle" x="792.90" y="315.3">160</text>
<text class="tk" text-anchor="middle" x="836.35" y="315.3">170</text>
<text class="tk" text-anchor="middle" x="879.80" y="315.3">180</text>
<text class="tk" text-anchor="end" x="48.8" y="295.60">0</text>
<text class="tk" text-anchor="end" x="48.8" y="245.80">20</text>
<text class="tk" text-anchor="end" x="48.8" y="196.00">40</text>
<text class="tk" text-anchor="end" x="48.8" y="146.20">60</text>
<text class="tk" text-anchor="end" x="48.8" y="96.40">80</text>
<text class="tk" text-anchor="end" x="48.8" y="46.60">100</text>
<text class="tt" text-anchor="middle" x="465.6" y="347.8" style="letter-spacing:0.07px">Tiempo (0.25 s)</text>
<text class="tt" text-anchor="middle" transform="translate(14.8,155.7) rotate(-90)" style="letter-spacing:0.12px">Amplitud (µV)</text>
<line x1="55" x2="65.1" y1="374.9" y2="374.9" stroke="#35A1EC" stroke-width="2"/>
<line x1="74.9" x2="85" y1="374.9" y2="374.9" stroke="#35A1EC" stroke-width="2"/>
<path d="M66.65,371.55L73.35,378.25M66.65,378.25L73.35,371.55" fill="none" stroke="#35A1EC" stroke-width="2.2"/>
<text class="lg" x="90.3" y="378.8">Recto femoral derecho</text>
<line x1="211.4" x2="221.5" y1="374.9" y2="374.9" stroke="#FF4081" stroke-width="2"/>
<line x1="231.3" x2="241.4" y1="374.9" y2="374.9" stroke="#FF4081" stroke-width="2"/>
<path d="M223.05,371.55L229.75,378.25M223.05,378.25L229.75,371.55" fill="none" stroke="#FF4081" stroke-width="2.2"/>
<text class="lg" x="247" y="378.8">Vasto medial derecho</text>
<line x1="363" x2="393" y1="374.9" y2="374.9" stroke="#FFA244" stroke-width="2"/>
<text class="lg" x="398.6" y="378.8">Recto femoral izquierdo</text>
<line x1="525" x2="555" y1="374.9" y2="374.9" stroke="#9565FF" stroke-width="2"/>
<text class="lg" x="560" y="378.8">Vasto medial izquierdo</text>
</svg></body></html>
